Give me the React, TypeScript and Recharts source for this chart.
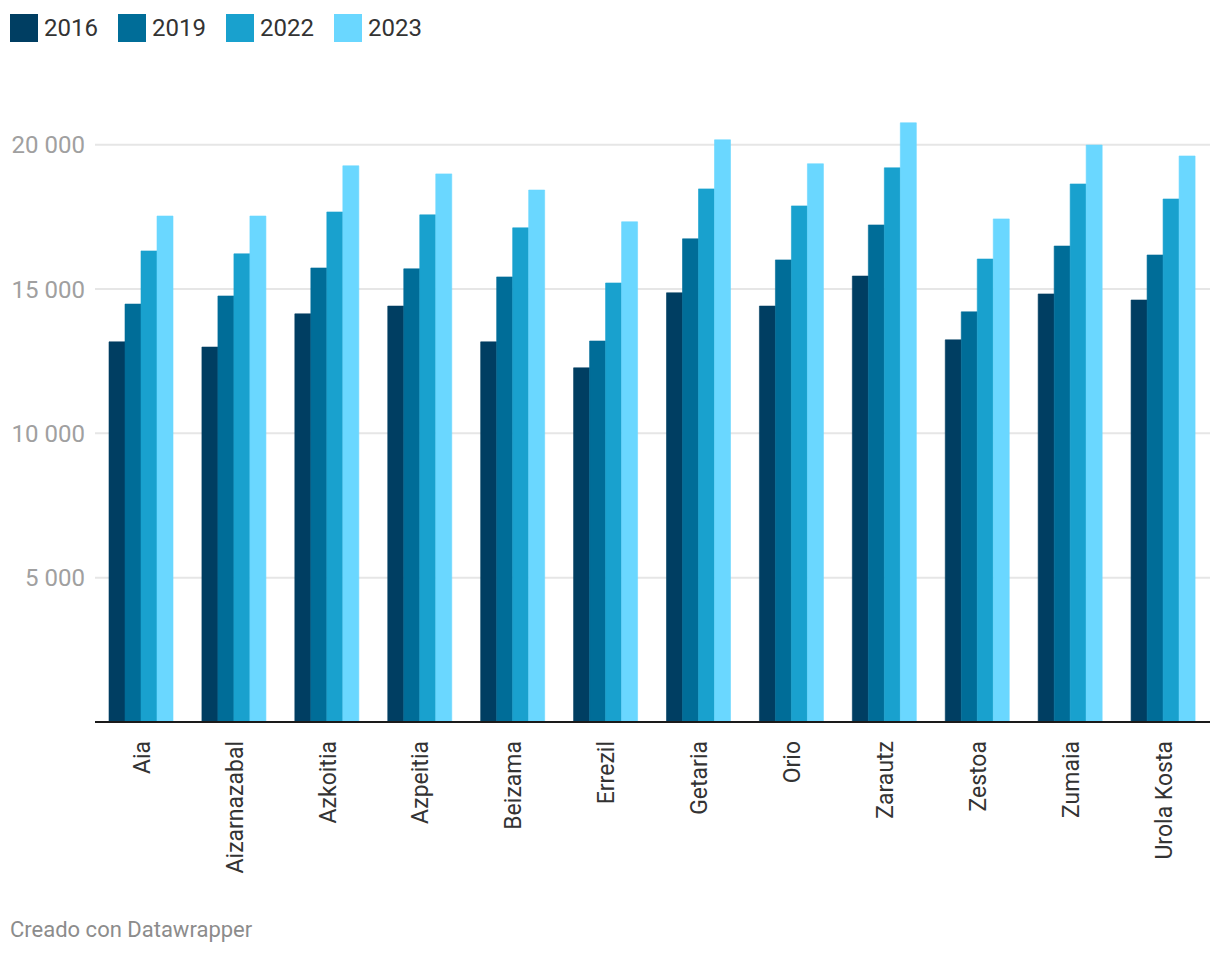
import { BarChart, Bar, XAxis, YAxis, CartesianGrid } from "recharts";

const municipalities = [
  "Aia",
  "Aizarnazabal",
  "Azkoitia",
  "Azpeitia",
  "Beizama",
  "Errezil",
  "Getaria",
  "Orio",
  "Zarautz",
  "Zestoa",
  "Zumaia",
  "Urola Kosta",
];

const values2016 = [13170, 12990, 14140, 14410, 13170, 12270, 14870, 14410, 15450, 13240, 14830, 14620];
const values2019 = [14480, 14760, 15730, 15700, 15420, 13200, 16740, 16010, 17220, 14210, 16490, 16180];
const values2022 = [16320, 16220, 17670, 17570, 17120, 15210, 18470, 17880, 19200, 16040, 18640, 18120];
const values2023 = [17530, 17530, 19270, 18990, 18430, 17330, 20170, 19340, 20760, 17430, 19990, 19610];

const yTicks = [5000, 10000, 15000, 20000];

const series = [
  { key: "y2016", label: "2016", color: "#003e62" },
  { key: "y2019", label: "2019", color: "#006d98" },
  { key: "y2022", label: "2022", color: "#19a1ce" },
  { key: "y2023", label: "2023", color: "#6ad7ff" },
];

const data = municipalities.map((name, i) => ({
  name,
  y2016: values2016[i],
  y2019: values2019[i],
  y2022: values2022[i],
  y2023: values2023[i],
}));

const FONT = "Roboto, 'Noto Sans', sans-serif";

function formatThousands(value: number) {
  return String(value).replace(/\B(?=(\d{3})+(?!\d))/g, " ");
}

function XTick(props: any) {
  const { x, y, payload } = props;
  return (
    <text
      transform={`translate(${x},${y + 11}) rotate(-90)`}
      textAnchor="end"
      dy="0.36em"
      fill="#333333"
      fontSize={23}
      fontFamily={FONT}
    >
      {payload.value}
    </text>
  );
}

function YTick(props: any) {
  const { y, payload } = props;
  return (
    <text
      x={85}
      y={y}
      textAnchor="end"
      dy="0.36em"
      fill="#a0a0a0"
      fontSize={24}
      fontFamily={FONT}
    >
      {formatThousands(payload.value)}
    </text>
  );
}

export default function App() {
  return (
    <div
      style={{
        position: "absolute",
        left: 0,
        top: 0,
        width: 1220,
        height: 954,
        background: "#ffffff",
        fontFamily: FONT,
      }}
    >
      <div style={{ position: "absolute", left: 10, top: 14, display: "flex" }}>
        {series.map((s) => (
          <div
            key={s.key}
            style={{ display: "flex", alignItems: "center", width: 108, height: 28 }}
          >
            <span style={{ width: 28, height: 28, background: s.color, display: "inline-block" }} />
            <span style={{ marginLeft: 6, fontSize: 24, color: "#333333", lineHeight: "28px" }}>
              {s.label}
            </span>
          </div>
        ))}
      </div>

      <div style={{ position: "absolute", left: 0, top: 0 }}>
        <BarChart
          width={1220}
          height={900}
          data={data}
          margin={{ top: 87, right: 10, bottom: 0, left: 0 }}
          barCategoryGap={14}
          barGap={0}
        >
          <CartesianGrid
            vertical={false}
            horizontalValues={yTicks}
            stroke="#e6e6e6"
            strokeWidth={2}
          />
          <XAxis
            dataKey="name"
            interval={0}
            height={178}
            tickLine={false}
            axisLine={{ stroke: "#1a1a1a", strokeWidth: 2 }}
            tick={<XTick />}
          />
          <YAxis
            width={95}
            domain={[0, 22000]}
            ticks={yTicks}
            axisLine={false}
            tickLine={false}
            tick={<YTick />}
          />
          {series.map((s) => (
            <Bar
              key={s.key}
              dataKey={s.key}
              fill={s.color}
              stroke={s.color}
              strokeWidth={0.6}
              isAnimationActive={false}
            />
          ))}
        </BarChart>
      </div>

      <div
        style={{
          position: "absolute",
          left: 10,
          top: 916,
          fontSize: 22,
          color: "#8c8c8c",
          lineHeight: "28px",
        }}
      >
        Creado con Datawrapper
      </div>
    </div>
  );
}
